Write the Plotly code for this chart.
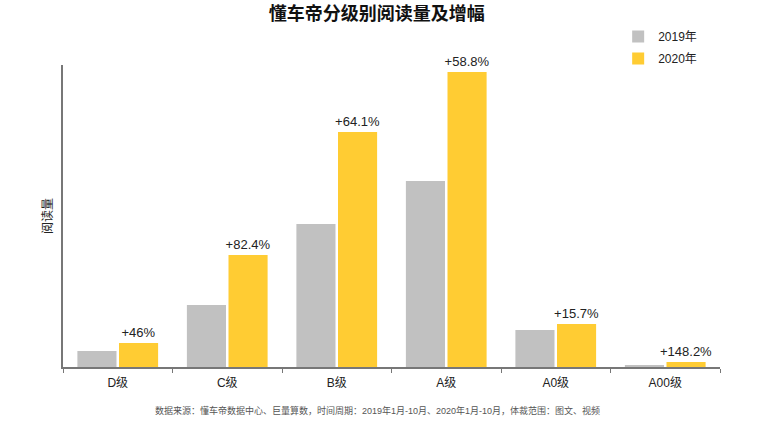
import plotly.graph_objects as go

categories = ["D级", "C级", "B级", "A级", "A0级", "A00级"]
reads_2019 = [16, 62, 143, 186, 37, 2]
reads_2020 = [24, 112, 235, 295, 43, 5]
growth_labels = ["+46%", "+82.4%", "+64.1%", "+58.8%", "+15.7%", "+148.2%"]

FONT = "Liberation Sans, Noto Sans CJK SC"
CJK = "Noto Sans CJK SC"

fig = go.Figure()
fig.add_trace(go.Bar(
    x=categories, y=reads_2019, name="2019年", legendgroup="a",
    marker=dict(color="#C1C1C1", line=dict(width=0)),
))
fig.add_trace(go.Bar(
    x=categories, y=reads_2020, name="2020年", legendgroup="b",
    marker=dict(color="#FFCC33", line=dict(width=0)),
    text=growth_labels, textposition="outside", constraintext="none",
    textfont=dict(size=13, color="#222222", family=FONT),
    cliponaxis=False,
))

fig.update_layout(
    width=775, height=422,
    margin=dict(l=63, r=55, t=65, b=55, autoexpand=False),
    paper_bgcolor="white", plot_bgcolor="white",
    font=dict(family=FONT, size=12, color="#222222"),
    barmode="group", bargap=0.24, bargroupgap=0.06,
    title=dict(text="<b>懂车帝分级别阅读量及增幅</b>", x=0.486, xanchor="center",
               y=0.968, yanchor="middle", font=dict(size=18, color="#111111", family=CJK)),
    legend=dict(x=0.845, y=1.142, xanchor="left", yanchor="top",
                font=dict(size=12, color="#222222"), itemwidth=30,
                tracegroupgap=3, bgcolor="rgba(0,0,0,0)"),
    showlegend=True,
    xaxis=dict(showline=True, linecolor="#777777", linewidth=1.5,
               ticks="outside", tickson="boundaries", ticklen=4, tickcolor="#777777",
               ticklabelstandoff=4,
               tickfont=dict(size=12, color="#222222"), showgrid=False),
    yaxis=dict(showline=True, linecolor="#777777", linewidth=1.5, range=[0, 302],
               showticklabels=False, showgrid=False, zeroline=False, ticks="",
               title=dict(text="阅读量", font=dict(size=12, color="#222222", family=CJK), standoff=6)),
    annotations=[dict(
        text="数据来源：懂车帝数据中心、巨量算数，时间周期：2019年1月-10月、2020年1月-10月，体裁范围：图文、视频",
        x=0.478, xref="paper", xanchor="center", y=-0.145, yref="paper", yanchor="middle",
        showarrow=False, font=dict(size=9, color="#555555", family=FONT))],
)

fig.write_html("out.html", config={"displayModeBar": False},
               post_script="document.body.style.margin='0';")
